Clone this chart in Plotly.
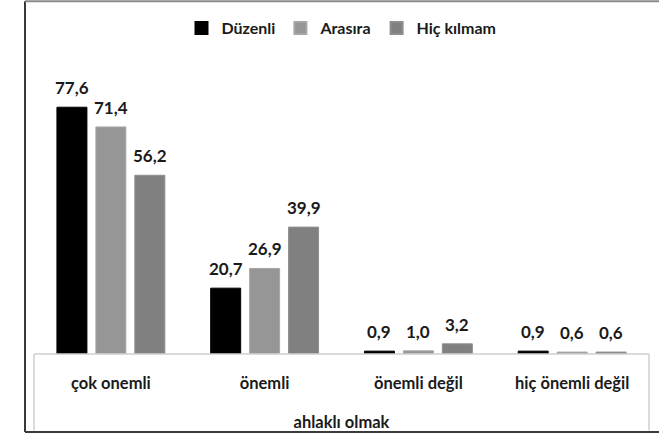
import plotly.graph_objects as go

# Survey: importance of "ahlaklı olmak" by prayer frequency (%)
categories = ["çok onemli", "önemli", "önemli değil", "hiç önemli değil"]
series_names = ["Düzenli", "Arasıra", "Hiç kılmam"]
duzenli = [77.6, 20.7, 0.9, 0.9]
arasira = [71.4, 26.9, 1.0, 0.6]
hic_kilmam = [56.2, 39.9, 3.2, 0.6]
group_title = "ahlaklı olmak"

series_values = [duzenli, arasira, hic_kilmam]
fills = ["#000000", "#969696", "#808080"]
edges = ["#000000", "#a6a6a6", "#8e8e8e"]

FONT = "Lato"
TXT = "#1a1a1a"
W, H = 659, 438
ML, MR, MT, MB = 34, 10, 36, 82
plot_w = W - ML - MR
plot_h = H - MT - MB

BARGAP = 0.24
BARGROUPGAP = 0.23


def fmt(v):
    return f"{v:.1f}".replace(".", ",")


fig = go.Figure()
for name, vals, fc, ec in zip(series_names, series_values, fills, edges):
    fig.add_trace(go.Bar(
        name=name,
        x=categories,
        y=vals,
        marker=dict(color=fc, line=dict(color=ec, width=1)),
        hoverinfo="skip",
    ))

# value labels above each bar, centred on its slot inside the group
slot = (1 - BARGAP) / len(series_names)
annotations = []
for si, vals in enumerate(series_values):
    offset = (si - (len(series_names) - 1) / 2) * slot
    for ci, v in enumerate(vals):
        annotations.append(dict(
            x=ci + offset, y=v, xref="x", yref="y",
            text=fmt(v), showarrow=False,
            yanchor="bottom", yshift=7,
            font=dict(family=FONT, size=17, color=TXT, weight="bold"),
        ))


def px_x(p):
    return (p - ML) / plot_w


def px_y(p):
    return (H - MB - p) / plot_h


shapes = [
    # outer chart frame
    dict(type="line", xref="paper", yref="paper", x0=px_x(25), x1=px_x(25),
         y0=px_y(1), y1=px_y(434.5), line=dict(color="#3a3a3a", width=2)),
    dict(type="line", xref="paper", yref="paper", x0=px_x(25), x1=px_x(W),
         y0=px_y(1), y1=px_y(1), line=dict(color="#8a8a8a", width=2)),
    dict(type="line", xref="paper", yref="paper", x0=px_x(25), x1=px_x(W),
         y0=px_y(434.5), y1=px_y(434.5), line=dict(color="#3a3a3a", width=2)),
    # category axis box
    dict(type="line", xref="paper", yref="paper", x0=0, x1=0,
         y0=0, y1=px_y(433), line=dict(color="#cfcfcf", width=1.5)),
    dict(type="line", xref="paper", yref="paper", x0=1, x1=1,
         y0=0, y1=px_y(433), line=dict(color="#cfcfcf", width=1.5)),
    dict(type="line", xref="paper", yref="paper", x0=0, x1=1,
         y0=0, y1=0, line=dict(color="#cfcfcf", width=1.5)),
]

fig.update_layout(
    width=W, height=H,
    margin=dict(l=ML, r=MR, t=MT, b=MB, pad=0),
    paper_bgcolor="white", plot_bgcolor="white",
    barmode="group", bargap=BARGAP, bargroupgap=BARGROUPGAP,
    font=dict(family=FONT, color=TXT),
    showlegend=True,
    legend=dict(
        orientation="h", x=0.5, xanchor="center", y=px_y(11), yanchor="top",
        font=dict(family=FONT, size=16, color=TXT, weight="bold"),
        itemwidth=30, itemsizing="constant", traceorder="normal",
        bgcolor="rgba(0,0,0,0)",
    ),
    xaxis=dict(
        type="category", categoryorder="array", categoryarray=categories,
        range=[-0.5, len(categories) - 0.5],
        showline=False, showgrid=False, zeroline=False, ticks="",
        ticklabelstandoff=17,
        tickfont=dict(family=FONT, size=16.5, color=TXT, weight="bold"),
        title=dict(text=group_title, standoff=24,
                   font=dict(family=FONT, size=16.5, color=TXT, weight="bold")),
    ),
    yaxis=dict(range=[0, 100], visible=False, showgrid=False, zeroline=False),
    annotations=annotations,
    shapes=shapes,
)

fig.write_html("out.html")
